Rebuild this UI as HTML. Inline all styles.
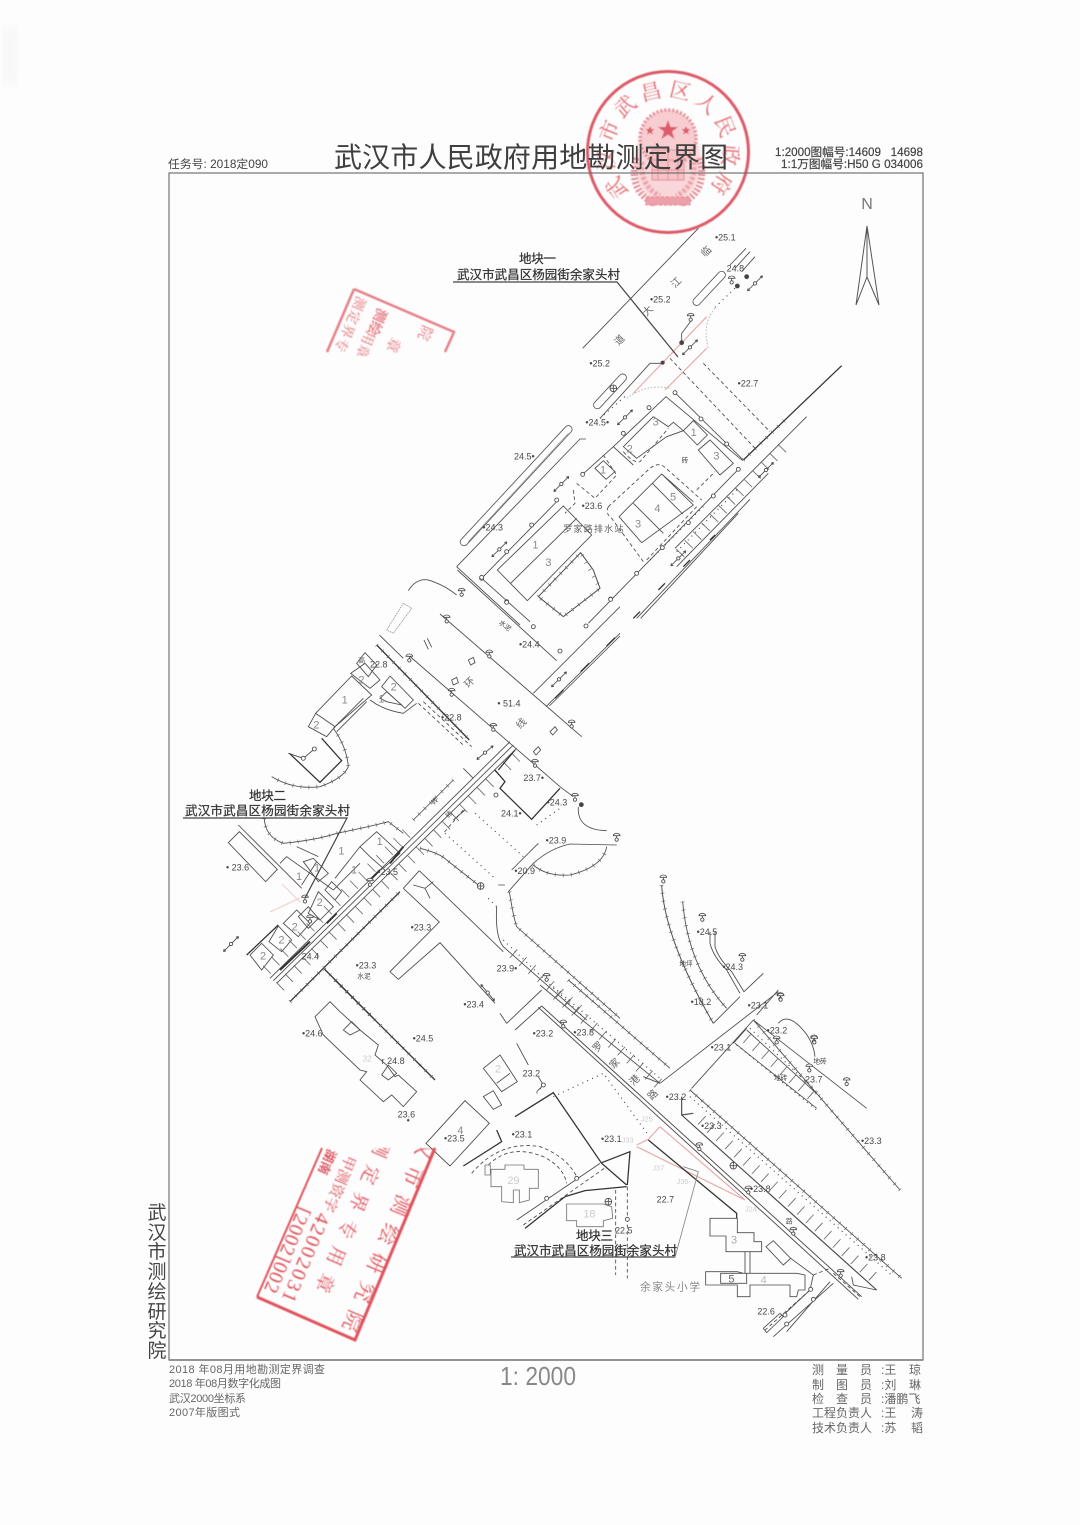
<!DOCTYPE html>
<html lang="zh"><head><meta charset="utf-8"><title>武汉市人民政府用地勘测定界图</title>
<style>
html,body{margin:0;padding:0;background:#fdfdfd}
svg{display:block;filter:blur(.3px)}
text{font-family:"Liberation Sans","Noto Sans CJK SC",sans-serif}
.z{fill:none;stroke:#4c4c4c;stroke-width:2.6}
.z text{fill:#484848;stroke:none;font-size:27px;font-family:"Liberation Sans","Noto Sans CJK SC",sans-serif}
.z text.g{fill:#8a8a8a;font-size:33px}
.z text.s{font-size:20px}
.z text.c{font-size:30px;fill:#666}
.th{stroke:#333;stroke-width:3.8}
.lt{stroke:#888;stroke-width:2}
.d{stroke-dasharray:11 8}
.dt{stroke-dasharray:3 13;stroke-width:3.5;stroke:#444}
.t{stroke-width:12;stroke-dasharray:2 22;stroke:#666}
.h{stroke-width:34;stroke-dasharray:2.5 34;stroke:#666}
.r{stroke:#e9a9ab;stroke-width:3.5}
.wv{stroke:#bbb;stroke-width:3;stroke-dasharray:5 5}
.u{stroke:#444;stroke-width:1.2;fill:none}
.lb{font-size:12.5px;fill:#333;stroke:#333;stroke-width:.25}
.st{fill:#e0525c;font-family:"Liberation Serif","Noto Serif CJK SC",serif}
.k{font-size:12px;fill:#666}
.b{font-size:11px;fill:#666}
</style></head><body>
<svg xmlns="http://www.w3.org/2000/svg" width="1080" height="1525" viewBox="0 0 1080 1525">
<defs>
<g id="o"><circle r="6" fill="#fff"/></g>
<g id="l"><circle cy="9" r="5" fill="#fff"/><path d="M-10-3a10 7 0 0 1 20 0zM0-3V4" fill="#fff"/></g>
<g id="a"><path d="M-32 0H32M-32 0l7-4M-32 0l7 4M32 0l-7-4M32 0l-7 4"/><circle r="5" fill="#fff"/></g>
<g id="x"><circle r="10" fill="#fff"/><path d="M-10 0H10M0-10V10"/></g>
<filter id="bl"><feGaussianBlur stdDeviation=".45"/></filter>
<filter id="bb"><feGaussianBlur stdDeviation="5"/></filter>
<filter id="b2"><feGaussianBlur stdDeviation="1.500"/></filter>
<clipPath id="c1"><path d="M435 1148L355 1340 257 1297 322 1148z"/></clipPath>
<clipPath id="c2"><path d="M354 289L454 332 440 356H327z"/></clipPath>
<path id="ring" d="M629.8 191.6A55 55 0 1 1 705.5 192.2"/>
</defs>
<rect x="3" y="28" width="14" height="55" fill="#f6f6f6" filter="url(#bb)"/>

<!-- round stamp -->
<g filter="url(#bl)">
<circle cx="668" cy="152" r="80.5" fill="none" stroke="#dc5a68" stroke-width="3"/>
<ellipse cx="668" cy="162" rx="33" ry="43" fill="#f8d6d9" filter="url(#b2)"/>
<circle cx="668" cy="138" r="28" fill="#f7cdd1" stroke="#e68c96" stroke-width="3.500" stroke-dasharray="2 2"/>
<path d="M636 158Q628 192 656 204M700 158Q708 192 680 204" fill="none" stroke="#e68c96" stroke-width="7" stroke-dasharray="2 2"/>
<path d="M642 162Q640 186 660 196M694 162Q696 186 676 196" fill="none" stroke="#eda3ab" stroke-width="5" stroke-dasharray="3 2"/>
<path d="M668 120l2.500 7h7.500l-6 4.500 2.500 7.500-6.500-4.500-6.500 4.500 2.500-7.500-6-4.500h7.500zM650 126l1.200 3h3.300l-2.600 2.200 1 3.300-2.900-1.900-2.900 1.900 1-3.300-2.600-2.200h3.300zM686 126l1.200 3h3.300l-2.600 2.200 1 3.300-2.900-1.900-2.900 1.900 1-3.300-2.600-2.200h3.300z" fill="#dc5c6a"/>
<rect x="646" y="197" width="44" height="8" fill="#eca0a9" stroke="#e27d8a" stroke-dasharray="3 2"/>
<path d="M652 150H684V180H652zM658 150V180M668 150V180M678 150V180M652 160H684M652 170H684" fill="#f5c2c8" stroke="#e68c96" stroke-width="1"/>
<text class="st" font-size="21" letter-spacing="5.1" opacity=".85"><textPath href="#ring">武汉市武昌区人民政府</textPath></text>
</g>

<!-- header -->
<text x="334" y="167" font-size="28" fill="#3f3f3f" textLength="394" lengthAdjust="spacing">武汉市人民政府用地勘测定界图</text>
<text x="168" y="168" font-size="11.500" fill="#444" textLength="100" lengthAdjust="spacingAndGlyphs">任务号: 2018定090</text>
<text x="775" y="156" font-size="11.500" fill="#444" stroke="#444" stroke-width=".2" textLength="148" lengthAdjust="spacingAndGlyphs">1:2000图幅号:14609&#160;&#160;&#160;14698</text>
<text x="781" y="168" font-size="11.500" fill="#444" stroke="#444" stroke-width=".2" textLength="142" lengthAdjust="spacingAndGlyphs">1:1万图幅号:H50 G 034006</text>

<!-- frame -->
<rect x="169" y="173" width="754" height="1187" fill="none" stroke="#666" stroke-width="1.100"/>
<path d="M169 1360H923" stroke="#777" stroke-width="1.500"/>

<!-- north arrow -->
<text x="867" y="209" font-size="16" fill="#777" text-anchor="middle">N</text>
<path d="M867 226L856 305 867 277 879 305zM867 226V277" fill="none" stroke="#555" stroke-width="1"/>

<!-- ZONE 1 -->
<g class="z" transform="translate(420,220) scale(.33333)">
<path d="M835 25L488 385"/>
<path class="r" d="M860 290L640 520M860 385L735 510"/>
<path class="wv" d="M885 265Q845 310 865 385M620 535Q680 490 750 505"/>
<path class="dt" d="M885 262L955 195M540 595L620 525"/>
<path d="M978 85L930 135M990 95L945 145M1005 110L965 155"/>
<path stroke="#555" stroke-width="25" stroke-linecap="round" d="M830 245L905 165M532 555L608 473M132 966L445 628"/>
<path stroke="#fff" stroke-width="20" stroke-linecap="round" d="M830 245L905 165M532 555L608 473M132 966L445 628"/>
<path class="lt" d="M145 965L445 640"/>
<path d="M110 1040L480 657H498M110 1040L300 1215M785 368V340L815 300M540 595L690 430H725"/>
<path d="M580 680L738 530 968 722M765 518L970 720M580 680L640 735M955 748L505 1210M185 1075L415 840M488 763L580 680"/>
<path d="M185 1075L330 1205"/>
<path class="th" d="M970 720L1105 590 1265 437"/>
<path class="t" d="M970 720L1105 590"/>
<path d="M765 985L1160 590"/>
<path d="M770 1040L1045 760"/>
<path class="h" stroke-width="30" d="M780 1000L1110 660"/>
<path d="M650 1195L990 838M662 1195L955 880"/>
<path class="th" stroke-width="3" d="M640 1195L660 1175M715 1110L735 1090M790 1040L810 1020M870 960L885 945"/>
<path class="dt" d="M770 995L960 800M690 1020L850 860"/>
<path class="d" d="M830 810L885 755M565 860Q555 880 575 895L670 1025M680 1020L830 860 M565 860L690 745Q715 725 735 742L845 840M470 790L525 835 590 765 550 705M460 810L465 850 435 880M610 695Q640 730 660 725L745 625M750 415L1010 690M850 430L1050 635"/>
<path d="M232 1050L430 858 515 945 322 1142zM272 1090L470 895"/>
<path stroke-width="3" d="M355 1130L482 998 520 1050 540 1105 430 1190z"/>
<path class="t" stroke-width="8" d="M355 1130L482 998 540 1105 430 1190z"/>
<path d="M597 890L725 762 820 855 665 968zM640 850L730 940M697 790L788 882M725 762L820 845"/>
<path d="M790 632L820 602 862 645 832 675zM835 690L870 660 940 730 900 765zM610 680L700 590 745 620 760 607 790 632 740 650 650 715z"/>
<path d="M525 745L550 722 585 755 558 778z"/>
<use href="#o" x="610" y="640"/><use href="#o" x="687" y="563"/><use href="#o" x="765" y="518"/><use href="#o" x="843" y="597"/><use href="#o" x="920" y="672"/><use href="#o" x="955" y="748"/><use href="#o" x="880" y="828"/><use href="#o" x="805" y="908"/><use href="#o" x="727" y="983"/><use href="#o" x="650" y="1060"/><use href="#o" x="572" y="1137"/><use href="#o" x="488" y="763"/><use href="#o" x="410" y="840"/><use href="#o" x="335" y="915"/><use href="#o" x="260" y="995"/><use href="#o" x="185" y="1075"/><use href="#o" x="260" y="1145"/>
<use href="#a" transform="translate(1005,190) rotate(-45)"/><use href="#a" transform="translate(810,382) rotate(-45)"/><use href="#a" transform="translate(615,592) rotate(-45)"/><use href="#a" transform="translate(424,792) rotate(-45)"/><use href="#a" transform="translate(238,988) rotate(-45)"/><use href="#a" transform="translate(1038,750) rotate(-45)"/><use href="#a" transform="translate(775,1015) rotate(-45)"/>
<use href="#l" x="935" y="178"/><use href="#l" x="812" y="290"/><use href="#x" x="580" y="505"/>
<circle cx="980" cy="170" r="6" fill="#444"/><circle cx="952" cy="198" r="6" fill="#444"/><circle cx="785" cy="368" r="6" fill="#444"/><circle cx="728" cy="428" r="5" fill="#444"/>
<text x="885" y="62">•25.1</text><text x="690" y="248">•25.2</text><text x="508" y="440">•25.2</text><text x="953" y="500">•22.7</text><text x="496" y="616">•24.5•</text><text x="282" y="718">24.5•</text><text x="485" y="867">•23.6</text><text x="187" y="932">•24.3</text><text x="920" y="155" fill="#555">24.8</text>
<text class="c" x="430" y="936" textLength="180" style="font-size:27px">罗家路排水站</text>
<text class="c" transform="translate(855,112) rotate(-45)">临</text><text class="c" transform="translate(765,205) rotate(-45)">江</text><text class="c" transform="translate(680,290) rotate(-45)">大</text><text class="c" transform="translate(595,378) rotate(-45)">道</text>
<text class="s" x="785" y="728">砖</text>
<text class="g" x="337" y="985">1</text><text class="g" x="376" y="1038">3</text><text class="g" x="645" y="922">3</text><text class="g" x="703" y="876">4</text><text class="g" x="750" y="842">5</text><text class="g" x="812" y="648">1</text><text class="g" x="880" y="718">3</text><text class="g" x="698" y="617">3</text><text class="g" x="620" y="697">2</text><text class="g" x="540" y="760">1</text>
</g>

<!-- ZONE 2 -->
<g class="z" transform="translate(170,570) scale(.33333)">
<path d="M715 62Q745 15 790 35Q830 50 860 75M810 132L1235 500M862 0L1160 272M715 255L1170 650"/>
<path class="th" d="M620 225L898 510"/><path class="t" d="M620 225L898 510"/>
<path d="M628 195L700 265"/>
<path class="d" d="M745 400L880 525M760 395L905 530"/>
<path d="M1090 370L1350 110M1128 410L1350 190M1138 408L1350 198"/>
<path class="th" stroke-width="3" d="M1155 385L1180 360M1232 305L1257 280M1310 228L1335 203"/>
<path class="lt" d="M650 180L700 100 725 115 670 190z" stroke-dasharray="5 2"/>
<path d="M762 210L775 238M772 205L785 232"/>
<path d="M895 270L910 262 915 278 902 285zM845 330L860 322 865 338 850 345zM1140 485L1155 470 1162 480 1148 495zM1090 545L1105 530 1112 540 1098 555z"/>
<path d="M560 280L585 248 620 285 595 320zM542 310L585 280 630 330 600 355zM437 430L545 318 605 375 495 470zM415 470L437 430 495 470 470 500zM635 350L660 318 730 390 705 415zM630 385L650 365 695 405 650 395z"/>
<path d="M600 390Q640 420 700 430L740 400M580 385L490 475M590 395L500 485"/>
<path class="th" d="M455 505L515 572 450 637 358 550"/>
<path d="M490 475Q530 530 535 590Q520 625 450 650Q370 660 305 620"/><path class="t" stroke-width="8" d="M490 475Q530 530 535 590Q520 625 450 650Q370 660 305 620"/>
<path d="M283 745Q285 800 340 820Q440 810 500 790Q600 770 655 755L700 790"/><path class="t" stroke-width="8" d="M283 745Q285 800 340 820Q440 810 500 790Q600 770 655 755L700 790"/>
<path d="M205 765L395 955M175 818L208 785 322 898 287 935zM330 880L350 860 490 960M495 925L570 830 620 785 690 850 640 895 600 860 570 830"/>
<path d="M400 875L430 865 475 910 445 935zM465 960L485 935 515 965 495 990zM380 830L445 860M395 945L440 875"/>
<path d="M240 1155L275 1120 310 1155 275 1200zM297 1115L325 1068 365 1110 335 1145zM340 1060L380 1020 420 1060 385 1100zM415 1030L445 965 490 1010 450 1050zM385 1040L415 1010 445 1045 415 1075zM490 960L570 880"/>
<path class="th" d="M230 1155L325 1065"/>
<path d="M300 1225L1020 515M310 1232L1030 525M320 1240L1040 535"/>
<path stroke="#333" stroke-width="6" d="M330 1200L420 1115M470 1060L500 1030M600 930L630 900M660 880L700 830"/>
<path class="h" d="M330 1250L1040 560"/><path class="h" stroke-width="24" d="M290 1200L720 780"/>
<path class="th" d="M360 1295L690 965"/><path class="t" d="M360 1295L690 965"/>
<path d="M730 750L850 630"/><path class="t" d="M730 750L850 630"/>
<path d="M880 595L910 625M850 750L885 720"/>
<path d="M748 902L1000 1145M700 955L748 902M700 955L808 1056 660 1205 685 1228 810 1118 975 1300M730 945L765 955 790 935M765 955L780 985"/>
<path class="th" d="M975 600L1005 635 990 655 1085 748 1170 655M1035 540L985 600"/>
<path d="M1170 650L1210 680M1225 710Q1220 780 1310 782"/>
<path class="dt" d="M915 730L1060 860M825 790L975 925M1100 765L1170 715M955 985L985 1015M1000 1110L1240 1340"/>
<path class="d" d="M880 720L820 790"/>
<path d="M1105 820L1025 900M985 945L1005 945M1015 965L1090 880Q1140 835 1200 822L1340 825M1090 885Q1130 920 1200 915Q1300 890 1310 830"/>
<path class="t" stroke-width="8" d="M1090 885Q1130 920 1200 915Q1300 890 1310 830"/>
<path d="M750 835Q810 850 830 870L925 945"/><path class="t" d="M750 835Q810 850 830 870L925 945"/>
<path d="M1018 965Q1030 1040 1040 1070L1350 1345"/><path class="t" d="M1018 965Q1030 1040 1040 1070L1350 1345"/>
<path d="M980 1010Q975 1100 1000 1130L1250 1350"/><path class="h" stroke-width="30" d="M1030 1150L1250 1340"/>
<path class="th" d="M463 1197L610 1345"/><path class="t" d="M463 1197L610 1345"/>
<path d="M355 550L400 565 433 537"/>
<use href="#o" x="935" y="22"/><use href="#o" x="1010" y="97"/><use href="#o" x="1090" y="170"/><use href="#o" x="1170" y="243"/><use href="#o" x="1248" y="168"/><use href="#o" x="1322" y="88"/><use href="#o" x="400" y="565"/><use href="#o" x="433" y="537"/><use href="#o" x="978" y="675"/>
<use href="#l" x="830" y="145"/><use href="#l" x="958" y="250"/><use href="#l" x="718" y="262"/><use href="#l" x="845" y="365"/><use href="#l" x="970" y="470"/><use href="#l" x="1095" y="578"/><use href="#l" x="1205" y="460"/><use href="#l" x="875" y="65"/><use href="#l" x="1215" y="680"/><use href="#l" x="1340" y="800"/><use href="#l" x="405" y="985"/><use href="#l" x="1130" y="1220"/><use href="#l" x="600" y="935"/><use href="#l" x="420" y="1045"/>
<use href="#x" x="932" y="948"/><circle cx="1234" cy="704" r="6" fill="#444"/>
<use href="#a" transform="translate(183,1122) rotate(-45)"/><use href="#a" transform="translate(945,548) rotate(-40)"/><use href="#a" transform="translate(1167,328) rotate(-45)"/><use href="#a" transform="translate(953,1268) rotate(50)"/>
<text x="600" y="293">22.8</text><text x="813" y="452">•22.8</text><text x="982" y="409">• 51.4</text><text x="1047" y="233">•24.4</text><text x="1060" y="633">23.7•</text><text x="993" y="740">24.1•</text><text x="1130" y="706">•24.3</text><text x="1127" y="820">•23.9</text><text x="1033" y="912">•20.9</text><text x="722" y="1082">•23.3</text><text x="557" y="1195">•23.3</text><text x="880" y="1312">•23.4</text><text x="980" y="1205">23.9•</text><text x="395" y="1168">24.4</text><text x="622" y="915">•23.5</text><text x="168" y="902">• 23.6</text>
<text class="s" x="562" y="1225">水泥</text><text class="s" transform="translate(985,160) rotate(38)">水泥</text>
<text class="c" transform="translate(895,355) rotate(-45)">环</text><text class="c" transform="translate(1050,478) rotate(-45)">线</text>
<text class="g" x="515" y="400">1</text><text class="g" x="430" y="475">2</text><text class="g" x="565" y="340">2</text><text class="g" x="662" y="362">2</text><text class="g" x="625" y="398">1</text><text class="g" x="620" y="825">1</text><text class="g" x="505" y="853">1</text><text class="g" x="543" y="910">1</text><text class="g" x="378" y="930">1</text><text class="g" x="432" y="905">1</text><text class="g" x="270" y="1168">2</text><text class="g" x="325" y="1120">2</text><text class="g" x="365" y="1082">2</text><text class="g" x="440" y="1008">2</text>
<text class="s" x="565" y="278">高</text>
<text class="s" transform="translate(792,705) rotate(-45)">砖</text><text class="s" transform="translate(835,745) rotate(-45)">砖</text>
</g>
<path d="M282 884L300 902M270 912L300 898" stroke="#f3cfcf" stroke-width="1.100" fill="none"/>

<!-- ZONE 11 : building -->
<g class="z" transform="translate(280,980) scale(.33333)">
<path d="M150 65L105 110 130 165 240 270 260 275 240 300 310 365 335 345 370 380 410 335 355 285 345 290 320 255 285 225 295 195 240 150 180 95z"/>
<path d="M190 150L215 125 240 150 210 165zM305 285L325 255 350 280 325 300z"/>
<path class="th" d="M165 0L465 300"/><path class="t" d="M165 0L465 300"/>
<text x="66" y="170">•24.6</text><text x="305" y="252">r 24.8</text><text x="398" y="184">•24.5</text><text x="353" y="413">23.6</text><text x="380" y="430">•</text>
<text class="g" x="248" y="245" style="font-size:24px;fill:#ccc">32</text>
</g>

<!-- ZONE 10 -->
<g class="z" transform="translate(600,860) scale(.33333)">
<path stroke-width="3" d="M185 75Q195 240 340 490"/><path class="t" d="M185 75Q195 240 340 490"/>
<path d="M248 125Q265 320 380 445"/><path class="t" d="M248 125Q265 320 380 445"/>
<path d="M330 215V250Q340 290 380 330L420 400M345 215V260Q355 295 395 335L432 395 490 340M340 490L420 410"/>
<path d="M535 490Q560 460 600 500Q640 540 645 590M470 465L535 390"/>
<use href="#l" x="190" y="55"/><use href="#l" x="307" y="170"/><use href="#l" x="427" y="290"/><use href="#l" x="541" y="408"/><use href="#l" x="642" y="535"/>
<text x="290" y="225">•24.5</text><text x="367" y="330">•24.3</text><text x="272" y="435">•18.2</text><text class="s" x="238" y="318">地坪</text>
</g>

<!-- ZONE 4 -->
<g class="z" transform="translate(400,980) scale(.33333)">
<path d="M425 78L1385 950M415 82L1375 958" stroke-width="2.800"/>
<path d="M320 130L425 30M345 150L425 78M300 100L320 130"/>
<path d="M420 15L510 90 780 310M505 0L810 265"/>
<path class="t" d="M505 0L810 265"/><path class="h" stroke-width="30" d="M470 45L775 310"/><path class="dt" d="M460 20L780 295"/>
<path d="M730 290L780 310M780 310L1135 35M875 325L1060 120M1040 145L1000 190"/>
<path d="M1060 120L1400 385M1040 150L1260 350M1005 190L1250 385M1060 120L1500 630"/>
<path class="t" d="M1060 120L1500 630"/><path class="h" stroke-width="26" d="M1040 175L1240 350"/><path class="dt" d="M1050 145L1260 345M1010 195L1250 390"/>
<path d="M870 330L1505 895"/><path class="t" d="M870 330L1505 895"/><path class="dt" d="M870 350L1480 890"/>
<path stroke-width="3.500" d="M845 405L1430 930M845 350V405L880 400"/>
<path class="h" d="M905 420L1430 900"/>
<path d="M1355 890L1360 915 1430 930"/>
<path d="M250 265L300 225 352 305 305 335zM290 310L330 280M250 350L280 332 305 375 280 388zM78 490L195 362 268 430 150 558zM350 190L385 255"/>
<path d="M410 335L430 315 415 290"/><path class="dt" d="M410 340L430 315"/>
<path class="r" d="M780 440L1035 660M780 440L745 478 710 495M710 500L1035 660" stroke-width="3"/>
<path class="th" d="M190 558L305 485 290 450M345 410L460 338 605 550 680 615M605 548L690 515 682 615M495 650L555 632 680 620M375 745L495 650M745 480L1010 700V715"/>
<path class="dt" d="M460 350L610 280 745 465"/>
<path d="M350 720L600 550"/><path class="d" d="M370 735L620 560"/>
<path class="d" d="M215 580Q300 480 420 500Q500 530 530 590M265 555Q330 490 430 530Q490 560 500 610M647 630V885M682 620V895"/>
<path d="M273 568H315V555H372V568H415V625H388V660L358 668V630H340V668L305 665V620H273zM255 555H271V585H255z" stroke="#777"/>
<path d="M500 672H610L635 680 638 715 610 722V740H530V722H500z" stroke="#777"/>
<path d="M930 715H1012V758H1062V785H1085V815H978V768H930zM1098 800L1120 782 1172 835 1150 855zM917 875H1012L1030 880H1190L1215 885V930H1195L1190 950H1170V915H1050V950H1012V915H917zM962 880H1040V910H962zM1035 815V880M1050 815V880"/>
<path d="M1172 835L1240 885 1230 930 1150 1005M1290 905L1160 1055M1300 910L1120 1070M1090 1045L1140 1000 1150 1010 1100 1058z"/>
<path class="d" d="M1230 930L1090 1055M1240 885L1290 865M1300 880L1380 950"/>
<path d="M850 560L895 575M895 575L825 832" stroke="#888"/>
<use href="#l" x="490" y="130"/><use href="#l" x="898" y="498"/><use href="#l" x="1045" y="628"/><use href="#l" x="1180" y="752"/><use href="#l" x="1322" y="878"/><use href="#l" x="1142" y="50"/><use href="#l" x="1243" y="178"/><use href="#l" x="1340" y="303"/><use href="#l" x="1228" y="262"/><use href="#l" x="1130" y="178"/>
<use href="#x" x="1000" y="557"/><use href="#x" x="625" y="665"/>
<use href="#o" x="430" y="315"/><use href="#o" x="1232" y="928"/><use href="#o" x="1155" y="1005"/><use href="#o" x="1240" y="958"/><use href="#o" x="1160" y="1032"/><use href="#o" x="682" y="718"/><use href="#o" x="530" y="595"/><use href="#o" x="440" y="655"/>
<text x="398" y="170">•23.2</text><text x="520" y="167">•23.8</text><text x="368" y="290">23.2</text><text x="797" y="360">•23.2</text><text x="1043" y="85">•23.1</text><text x="1100" y="160">•23.2</text><text x="932" y="212">•23.1</text><text x="903" y="447">•23.3</text><text x="1383" y="492">•23.3</text><text x="603" y="486">•23.1</text><text x="335" y="472">•23.1</text><text x="132" y="485">•23.5</text><text x="770" y="668">22.7</text><text x="1050" y="636">•23.8</text><text x="1215" y="307">23.7</text><text x="645" y="760">22.5</text><text x="1072" y="1003">22.6</text><text x="1395" y="842">•23.8</text>
<text class="c" transform="translate(590,218) rotate(-45)">罗</text><text class="c" transform="translate(640,268) rotate(-45)">家</text><text class="c" transform="translate(700,318) rotate(-45)">港</text><text class="c" transform="translate(755,362) rotate(-45)">路</text>
<text class="s" x="1158" y="730">路</text><text class="s" x="1122" y="300">地砖</text><text class="s" x="1240" y="250">地砖</text>
<text x="720" y="932" style="font-size:32px;fill:#8a8a8a" textLength="180">余家头小学</text>
<text class="g" x="172" y="462">4</text><text class="g" x="985" y="908" style="fill:#666">5</text><text class="g" x="1082" y="910" style="fill:#bbb">4</text><text class="g" x="993" y="790" style="fill:#aaa">3</text><text class="g" x="322" y="612" style="fill:#ccc">29</text><text class="g" x="550" y="712" style="fill:#ccc">18</text><text class="g" x="285" y="278" style="fill:#ccc">2</text>
<text class="g" x="723" y="425" style="font-size:22px;fill:#ccc">J25</text><text class="g" x="665" y="488" style="font-size:22px;fill:#ccc">J33</text><text class="g" x="757" y="572" style="font-size:22px;fill:#ccc">J37</text><text class="g" x="830" y="612" style="font-size:22px;fill:#ccc">J36</text><text class="g" x="1035" y="695" style="font-size:22px;fill:#ccc">J24</text>
</g>

<!-- label leaders -->
<path class="u" d="M453 282H617L678 357M183 818H347L305 898M511 1257H675"/>
<text class="lb" x="519" y="263" textLength="37">地块一</text>
<text class="lb" x="457" y="279" textLength="163">武汉市武昌区杨园街余家头村</text>
<text class="lb" x="249" y="800" textLength="37">地块二</text>
<text class="lb" x="185" y="815" textLength="165">武汉市武昌区杨园街余家头村</text>
<text class="lb" x="576" y="1240" textLength="37">地块三</text>
<text class="lb" x="514" y="1255" textLength="163">武汉市武昌区杨园街余家头村</text>

<!-- big rectangular stamp -->
<g filter="url(#bl)">
<path d="M435 1148L355 1340 257 1297" fill="none" stroke="#e0525c" stroke-width="3"/>
<path d="M322 1148L257 1297" fill="none" stroke="#e0525c" stroke-width="2"/>
<g clip-path="url(#c1)">
<text class="st" font-size="21" transform="translate(429,1138) rotate(112.7)" letter-spacing="10.300" y="7">汉市测绘研究院</text>
<text class="st" font-size="19" transform="translate(385,1139) rotate(112.7)" letter-spacing="10.300" y="6.500">测定界专用章</text>
<text class="st" font-size="15" transform="translate(351,1156) rotate(112.7)" y="5">甲测资字</text>
<text class="st" font-size="20" transform="translate(324,1214) rotate(112.7)" y="6.500" letter-spacing="2.100">42002031</text>
<text class="st" font-size="13" transform="translate(332,1150) rotate(112.7)" y="4.500" stroke="#d8404f" stroke-width=".4">湖南</text>
<text class="st" font-size="20" transform="translate(305,1208) rotate(112.7)" y="6.500" letter-spacing="1">[2002]002</text>
</g>
<path d="M354 289L454 332 445 352M354 289L327 352" fill="none" stroke="#e26a72" stroke-width="2.500" opacity=".85"/>
<g clip-path="url(#c2)" opacity=".8">
<text class="st" font-size="14" transform="translate(362,297) rotate(112.7)" y="5" letter-spacing="1">测定界专</text>
<text class="st" font-size="14" transform="translate(383,309) rotate(112.7)" y="5" stroke="#e0525c" stroke-width=".4">测绘</text>
<text class="st" font-size="14" transform="translate(371,332) rotate(112.7)" y="5">用章</text>
<text class="st" font-size="15" transform="translate(396,338) rotate(112.7)" y="5">章</text>
<text class="st" font-size="15" transform="translate(428,326) rotate(112.7)" y="5">院</text>
</g>
</g>

<!-- left vertical text -->
<g font-size="19" fill="#444" text-anchor="middle">
<text x="157" y="1219">武</text><text x="157" y="1239">汉</text><text x="157" y="1258">市</text><text x="157" y="1278">测</text><text x="157" y="1298">绘</text><text x="157" y="1318">研</text><text x="157" y="1337">究</text><text x="157" y="1357">院</text>
</g>

<!-- bottom left notes -->
<text class="b" x="169" y="1373" textLength="156">2018 年08月用地勘测定界调查</text>
<text class="b" x="169" y="1387" textLength="112">2018 年08月数字化成图</text>
<text class="b" x="169" y="1402" textLength="77">武汉2000坐标系</text>
<text class="b" x="169" y="1416" textLength="71">2007年版图式</text>
<text x="500" y="1385" font-size="26" fill="#888" textLength="76" lengthAdjust="spacingAndGlyphs">1: 2000</text>

<!-- staff -->
<g class="k">
<text x="812" y="1374" textLength="60">测　量　员</text><text x="881" y="1374">:王</text><text x="909" y="1374">琼</text>
<text x="812" y="1389" textLength="60">制　图　员</text><text x="881" y="1389">:刘</text><text x="909" y="1389">琳</text>
<text x="812" y="1403" textLength="60">检　查　员</text><text x="881" y="1403">:潘鹏飞</text>
<text x="812" y="1417" textLength="60">工程负责人</text><text x="881" y="1417">:王</text><text x="911" y="1417">涛</text>
<text x="812" y="1432" textLength="60">技术负责人</text><text x="881" y="1432">:苏</text><text x="911" y="1432">韬</text>
</g>
</svg>
</body></html>
